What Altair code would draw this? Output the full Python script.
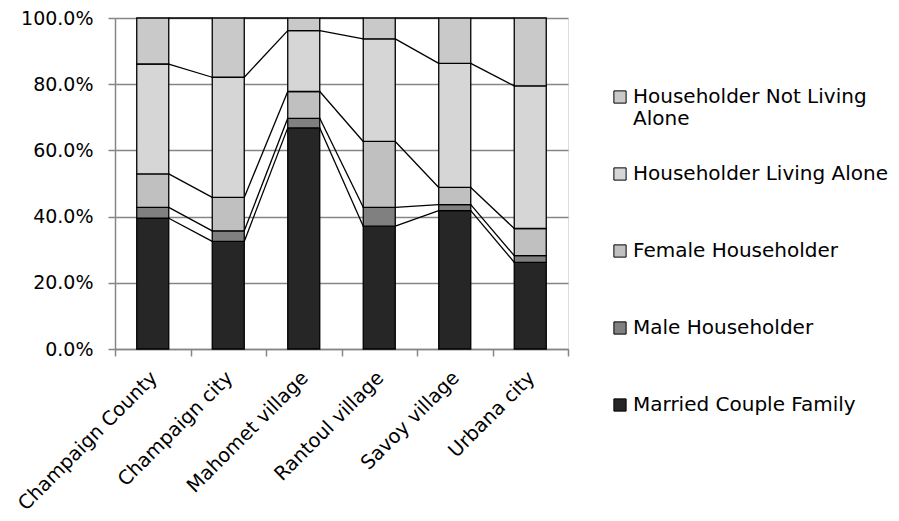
import altair as alt
import pandas as pd

categories = ["Champaign County", "Champaign city", "Mahomet village",
              "Rantoul village", "Savoy village", "Urbana city"]
series = ["Married Couple Family", "Male Householder", "Female Householder",
          "Householder Living Alone", "Householder Not Living Alone"]
married = [39.5, 32.5, 66.8, 37.1, 41.8, 26.2]
male = [3.3, 3.2, 2.9, 5.7, 1.8, 2.0]
female = [10.1, 10.1, 8.1, 19.9, 5.2, 8.2]
alone = [33.2, 36.3, 18.4, 31.0, 37.5, 43.1]
not_alone = [13.9, 17.9, 3.8, 6.3, 13.7, 20.5]
colors = ["#262626", "#808080", "#c0c0c0", "#d6d6d6", "#c9c9c9"]
y_ticks = [0, 0.2, 0.4, 0.6, 0.8, 1.0]

values = [married, male, female, alone, not_alone]

# stacked segments
rows = []
tops = {s: [] for s in series}
for i, c in enumerate(categories):
    cum = 0.0
    for k, s in enumerate(series):
        v = values[k][i]
        rows.append(dict(cat=c, idx=i, series=s, y0=cum / 100, y1=(cum + v) / 100))
        cum += v
        tops[s].append(cum / 100)
bars_df = pd.DataFrame(rows)

# series connector lines between adjacent bars
con_rows = []
for s in series:
    for i in range(len(categories) - 1):
        con_rows.append(dict(series=s, idx=i, ya=tops[s][i], yb=tops[s][i + 1]))
con_df = pd.DataFrame(con_rows)

PAD_IN = 0.576            # band padding -> bar width ~42% of the step
HW = (1 - PAD_IN) / 2     # half bar width in step units
FONT = "DejaVu Sans"
GRAY = "#868686"

y_scale = alt.Scale(domain=[0, 1], nice=False)

y_axis = alt.Axis(
    values=y_ticks, format=".1%", labelFontSize=19, labelColor="black",
    labelFont=FONT, labelPadding=15, tickSize=7, tickColor=GRAY, tickWidth=1.5,
    domainColor=GRAY, domainWidth=1.5, gridColor=GRAY, gridWidth=1.5, title=None,
)

band_axis = alt.Axis(
    orient="bottom", labelAngle=-45, labelAlign="right", labelBaseline="top",
    labelPadding=19, labelOffset=-5, ticks=False, tickSize=0, domain=False,
    labelOverlap=False, labelFontSize=19.5, labelColor="black", labelFont=FONT,
    labelLimit=400, labelBound=False, title=None, grid=False,
)

tick_axis = alt.Axis(
    orient="bottom", values=list(range(len(categories) + 1)), labels=False,
    tickSize=7, tickWidth=1.5, tickColor=GRAY, domainColor=GRAY, domainWidth=1.5,
    grid=False, title=None,
)

legend = alt.Legend(
    title=None, orient="none", legendX=495, legendY=69,
    symbolType="square", symbolSize=150, symbolStrokeColor="black",
    symbolStrokeWidth=1, labelFontSize=20, labelFont=FONT, labelColor="black",
    labelOffset=3, rowPadding=35, labelLimit=400, gridAlign="all",
    labelExpr="datum.label == 'Householder Not Living Alone' ? ['Householder Not Living', 'Alone'] : datum.label",
)

bars = alt.Chart(bars_df).mark_bar(stroke="black", strokeWidth=1.3).encode(
    x=alt.X("cat:N", sort=categories,
            scale=alt.Scale(domain=categories, paddingInner=PAD_IN,
                            paddingOuter=PAD_IN / 2),
            axis=band_axis),
    y=alt.Y("y0:Q", scale=y_scale, axis=y_axis),
    y2="y1:Q",
    color=alt.Color("series:N",
                    scale=alt.Scale(domain=series[::-1], range=colors[::-1]),
                    legend=legend),
)

lines = alt.Chart(con_df).mark_rule(color="black", strokeWidth=1.3).transform_calculate(
    xa=f"datum.idx + 0.5 + {HW}", xb=f"datum.idx + 1.5 - {HW}"
).encode(
    x=alt.X("xa:Q", scale=alt.Scale(domain=[0, len(categories)], nice=False, zero=False),
            axis=tick_axis),
    x2="xb:Q",
    y=alt.Y("ya:Q", scale=y_scale),
    y2="yb:Q",
)

chart = alt.layer(bars, lines).resolve_scale(x="independent").properties(
    width=453, height=331,
    autosize=alt.AutoSizeParams(type="none"),
    padding={"left": 107, "top": 10, "right": 323, "bottom": 164},
).configure_view(stroke=None).configure(font=FONT)

chart.save("out.html", embed_options={"renderer": "svg", "actions": False})
